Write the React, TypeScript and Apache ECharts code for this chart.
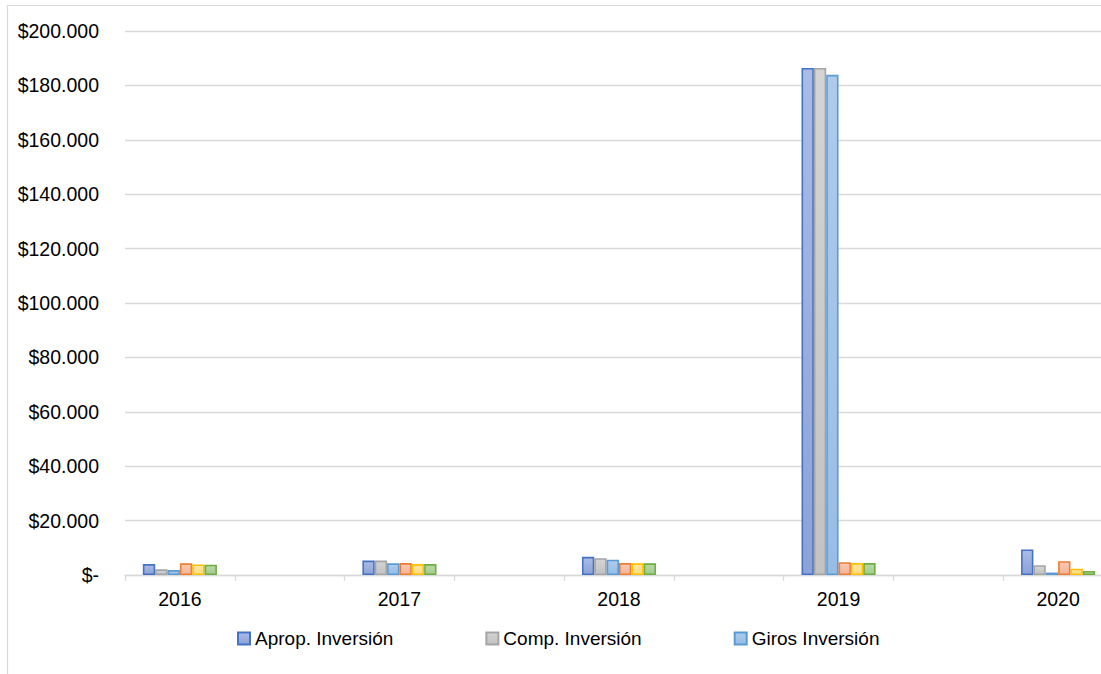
import React, { useEffect, useRef } from "react";
import * as echarts from "echarts";

const years = ["2016", "2017", "2018", "2019", "2020"];
const aprop = [4000, 5300, 6700, 186400, 9400];
const comp = [2100, 5300, 6200, 186400, 3600];
const giros = [1800, 4300, 5600, 183900, 900];
const serie4 = [4300, 4400, 4400, 4700, 5100];
const serie5 = [3900, 4000, 4300, 4400, 2300];
const serie6 = [3800, 4000, 4300, 4400, 1500];
const yTicks = { min: 0, max: 200000, interval: 20000 };
const legendNames = ["Aprop. Inversión", "Comp. Inversión", "Giros Inversión"];

// categories with an empty slot between consecutive years
const categories: string[] = [];
years.forEach((y, i) => {
  categories.push(y);
  if (i < years.length - 1) categories.push("");
});
const spread = (vals: number[]) => {
  const out: (number | null)[] = [];
  vals.forEach((v, i) => {
    out.push(v);
    if (i < vals.length - 1) out.push(null);
  });
  return out;
};

const FONT = "'Liberation Sans', Arial, sans-serif";

const grad = (top: string, bottom: string) =>
  new echarts.graphic.LinearGradient(0, 0, 0, 1, [
    { offset: 0, color: top },
    { offset: 1, color: bottom },
  ]);

const fmt = (v: number) =>
  v === 0 ? "$-" : "$" + String(v).replace(/\B(?=(\d{3})+(?!\d))/g, ".");

export default function App() {
  const ref = useRef<HTMLDivElement>(null);
  useEffect(() => {
    if (!ref.current) return;
    const chart = echarts.init(ref.current, null, { renderer: "svg" });
    const mk = (name: string, data: number[], top: string, bottom: string, border: string) => ({
      name,
      type: "bar",
      data: spread(data),
      barGap: "0%",
      barCategoryGap: "32.5%",
      itemStyle: { color: grad(top, bottom), borderColor: border, borderWidth: 1.6 },
    });
    chart.setOption({
      animation: false,
      backgroundColor: "#ffffff",
      graphic: [
        {
          type: "rect",
          shape: { x: 7.5, y: 5.5, width: 1200, height: 800 },
          style: { fill: "none", stroke: "#D9D9D9", lineWidth: 1.2 },
          silent: true,
        },
      ],
      grid: { left: 125, top: 31, bottom: 99, right: 0 },
      legend: {
        data: legendNames,
        left: 232,
        top: 624,
        itemWidth: 12,
        itemHeight: 12,
        itemGap: 92,
        icon: "rect",
        textStyle: { fontFamily: FONT, fontSize: 19, color: "#000000" },
      },
      xAxis: {
        type: "category",
        data: categories,
        axisLine: { lineStyle: { color: "#D9D9D9", width: 1.3 } },
        axisTick: { show: true, interval: 0, length: 6, lineStyle: { color: "#D9D9D9", width: 1.3 } },
        axisLabel: { interval: 0, margin: 14, fontFamily: FONT, fontSize: 19.5, color: "#000000" },
      },
      yAxis: {
        type: "value",
        min: yTicks.min,
        max: yTicks.max,
        interval: yTicks.interval,
        axisLine: { show: false },
        axisTick: { show: false },
        splitLine: { lineStyle: { color: "#D9D9D9", width: 1.3 } },
        axisLabel: {
          margin: 26,
          fontFamily: FONT,
          fontSize: 19.5,
          color: "#000000",
          formatter: fmt,
        },
      },
      series: [
        mk(legendNames[0], aprop, "#AABBE4", "#8CA3D8", "#4472C4"),
        mk(legendNames[1], comp, "#D4D4D4", "#C2C2C2", "#A5A5A5"),
        mk(legendNames[2], giros, "#AECBEB", "#97BDE6", "#5B9BD5"),
        mk("Serie 4", serie4, "#F9C9B2", "#F5B497", "#ED7D31"),
        mk("Serie 5", serie5, "#FFE6A3", "#FFDB80", "#FFC000"),
        mk("Serie 6", serie6, "#B8D8A4", "#A3CC8B", "#70AD47"),
      ],
    });
    return () => chart.dispose();
  }, []);
  return (
    <div
      style={{
        position: "absolute",
        left: 0,
        top: 0,
        width: 1101,
        height: 674,
        overflow: "hidden",
      }}
    >
      <div ref={ref} style={{ width: 1113, height: 674 }} />
    </div>
  );
}
